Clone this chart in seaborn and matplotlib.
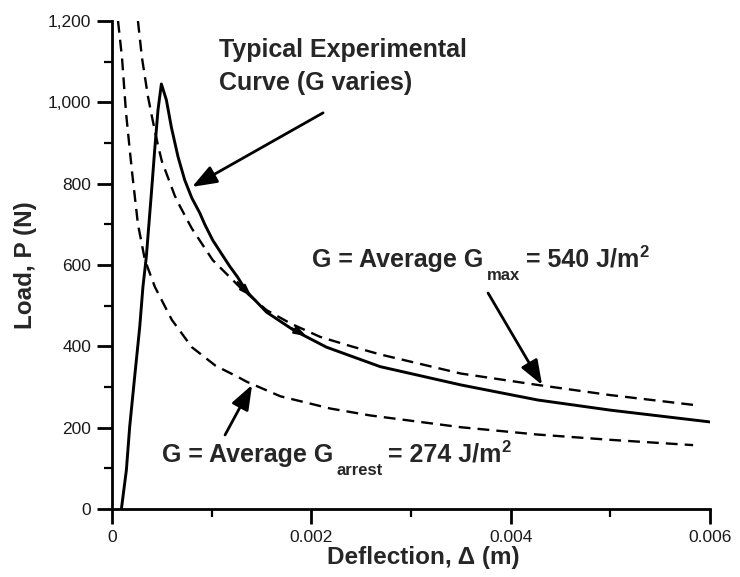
import matplotlib
matplotlib.use("Agg")
import matplotlib.pyplot as plt
import seaborn as sns
import pandas as pd
from matplotlib.ticker import FixedLocator, MultipleLocator, FuncFormatter

# ---------------- data ----------------
delta_exp = [0.000094, 0.000144, 0.000177, 0.000227, 0.000278, 0.000310, 0.000344, 0.000395,
             0.000428, 0.000461, 0.000495, 0.000545, 0.000595, 0.000662, 0.000729, 0.000800,
             0.000880, 0.000930, 0.001010, 0.001100, 0.001180, 0.001260, 0.001350, 0.001550,
             0.001820, 0.002150, 0.002690, 0.003500, 0.004270, 0.005000, 0.006000]
load_exp = [0, 96, 202, 325, 448, 546, 620, 777,
            883, 981, 1045, 1006, 939, 866, 809, 765,
            728, 700, 661, 627, 597, 570, 535, 484,
            440, 398, 350, 305, 268, 243, 214]

delta_max = [0.00026, 0.00030, 0.00036, 0.00040, 0.00046, 0.00050, 0.00063, 0.00068,
             0.00080, 0.00101, 0.00128, 0.00155, 0.00180, 0.00209, 0.00240, 0.00269,
             0.00350, 0.00427, 0.00500, 0.00583]
load_max = [1200, 1110, 1015, 965, 895, 855, 770, 745,
            690, 612, 546, 489, 455, 423, 400, 380,
            333, 305, 280, 256]

delta_arr = [0.00006, 0.00010, 0.00014, 0.00020, 0.00026, 0.00033, 0.00043, 0.00060,
             0.00080, 0.00104, 0.00126, 0.00135, 0.00169, 0.00219, 0.00259, 0.00350,
             0.00427, 0.00500, 0.00583]
load_arr = [1200, 1110, 975, 830, 700, 612, 546, 465,
            398, 352, 325, 313, 277, 247, 230, 201,
            183, 170, 157]

x_ticks = [0, 0.002, 0.004, 0.006]
x_tick_labels = ["0", "0.002", "0.004", "0.006"]
y_ticks = [0, 200, 400, 600, 800, 1000, 1200]

label_exp_1 = "Typical Experimental"
label_exp_2 = "Curve (G varies)"
label_max_parts = ["G = Average G", "max", "= 540 J/m", "2"]
label_arr_parts = ["G = Average G", "arrest", "= 274 J/m", "2"]
x_label = "Deflection, \u0394 (m)"
y_label = "Load, P (N)"

# ---------------- style ----------------
sns.set_style("ticks")
plt.rcParams["font.family"] = ["Liberation Sans", "DejaVu Sans"]

fig = plt.figure(figsize=(7.4, 5.77), dpi=100)
ax = fig.add_axes([0.1514, 0.1179, 0.8081, 0.8458])

df_exp = pd.DataFrame({"d": delta_exp, "p": load_exp})
df_max = pd.DataFrame({"d": delta_max, "p": load_max})
df_arr = pd.DataFrame({"d": delta_arr, "p": load_arr})

dash = (0, (5, 3))
sns.lineplot(data=df_max, x="d", y="p", ax=ax, color="black", lw=1.7,
             sort=False, estimator=None, linestyle=dash)
sns.lineplot(data=df_arr, x="d", y="p", ax=ax, color="black", lw=1.7,
             sort=False, estimator=None, linestyle=dash)
sns.lineplot(data=df_exp, x="d", y="p", ax=ax, color="black", lw=2.1,
             sort=False, estimator=None)

ax.set_xlim(0, 0.006)
ax.set_ylim(0, 1200)
sns.despine(ax=ax)
for s in ("left", "bottom"):
    ax.spines[s].set_linewidth(2.0)
    ax.spines[s].set_color("black")

ax.xaxis.set_major_locator(FixedLocator(x_ticks))
ax.set_xticklabels(x_tick_labels)
ax.xaxis.set_minor_locator(MultipleLocator(0.001))
ax.yaxis.set_major_locator(FixedLocator(y_ticks))
ax.yaxis.set_minor_locator(MultipleLocator(100))
ax.yaxis.set_major_formatter(FuncFormatter(lambda v, p: f"{v:,.0f}"))

ax.tick_params(which="major", direction="out", length=11, width=2.0,
               labelsize=12.5, color="black", labelcolor="#1a1a1a", pad=4)
ax.tick_params(which="minor", direction="out", length=6, width=1.6, color="black")

ax.set_xlabel(x_label, fontsize=17.5, fontweight="bold", labelpad=4)
ax.set_ylabel(y_label, fontsize=17.5, fontweight="bold", labelpad=8)
ax.xaxis.set_label_coords(0.52, -0.075)

# ---------------- annotations ----------------
tfs = 18
ax.text(0.00107, 1111, label_exp_1, fontsize=tfs, fontweight="bold", va="baseline")
ax.text(0.00107, 1030, label_exp_2, fontsize=tfs, fontweight="bold", va="baseline")


def g_label(x, y, parts):
    main, sub, rest, sup = parts
    t1 = ax.text(x, y, main, fontsize=tfs, fontweight="bold", va="baseline")
    t2 = ax.annotate(sub, xy=(1, 0), xycoords=t1, xytext=(3, -11),
                     textcoords="offset pixels", fontsize=12, fontweight="bold",
                     va="bottom", ha="left")
    t3 = ax.annotate(rest, xy=(1, 0), xycoords=(t2, t1), xytext=(6, 0),
                     textcoords="offset pixels", fontsize=tfs, fontweight="bold",
                     va="bottom", ha="left")
    ax.annotate(sup, xy=(1, 0), xycoords=t3, xytext=(0, 12),
                textcoords="offset pixels", fontsize=12, fontweight="bold",
                va="bottom", ha="left")


g_label(0.00201, 595, label_max_parts)
g_label(0.00050, 116, label_arr_parts)

big = dict(arrowstyle="-|>,head_length=0.75,head_width=0.28", color="black",
           lw=2.0, shrinkA=0, shrinkB=0, mutation_scale=20)
ax.annotate("", xy=(0.000803, 792), xytext=(0.002117, 974), arrowprops=big)
ax.annotate("", xy=(0.004315, 305), xytext=(0.003773, 531), arrowprops=big)
ax.annotate("", xy=(0.001405, 305), xytext=(0.001134, 182), arrowprops=big)

small = dict(arrowstyle="-|>,head_length=0.6,head_width=0.2", color="black",
             lw=1.5, shrinkA=0, shrinkB=0, mutation_scale=12)
ax.annotate("", xy=(0.00140, 522), xytext=(0.00126, 558), arrowprops=small)
ax.annotate("", xy=(0.00195, 425), xytext=(0.00180, 445), arrowprops=small)

fig.savefig("out.png", dpi=100)
